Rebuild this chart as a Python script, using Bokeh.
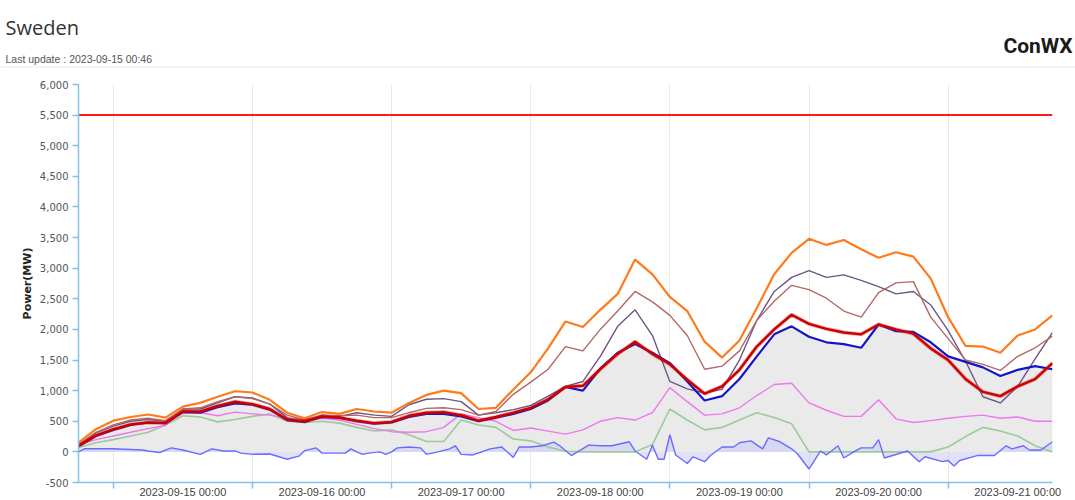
import pandas as pd
from bokeh.plotting import figure
from bokeh.layouts import column
from bokeh.models import FixedTicker, CustomJSTickFormatter, NumeralTickFormatter, Label, Span
from bokeh.embed import file_html
from bokeh.resources import INLINE

# ---------------- data (MW), 3-hourly from 2023-09-14 18:00 ----------------
start = pd.Timestamp("2023-09-14 18:00")
end = pd.Timestamp("2023-09-21 18:00")
times = pd.date_range(start, end, freq="3h")

capacity_mw = 5500

orange = [150, 370, 510, 570, 610, 560, 740, 800, 900, 990, 970, 850,
          640, 550, 650, 620, 700, 660, 640, 800, 930, 1000, 960, 700,
          720, 1020, 1300, 1690, 2130, 2040, 2320, 2580, 3140, 2900, 2530, 2300,
          1800, 1540, 1820, 2350, 2900, 3250, 3480, 3380, 3460, 3310, 3170, 3260,
          3190, 2830, 2200, 1730, 1720, 1620, 1900, 2000, 2230]

brown = [120, 320, 440, 520, 550, 510, 700, 720, 820, 900, 870, 780,
         600, 520, 600, 590, 600, 560, 560, 640, 710, 720, 690, 600,
         660, 940, 1140, 1350, 1720, 1650, 2000, 2300, 2620, 2450, 2230, 1900,
         1350, 1400, 1650, 2150, 2460, 2720, 2650, 2510, 2300, 2200, 2600, 2760,
         2780, 2200, 1850, 1500, 1430, 1330, 1560, 1700, 1890]

purple = [110, 310, 420, 500, 530, 500, 700, 700, 800, 900, 880, 780,
          560, 480, 600, 580, 640, 600, 580, 770, 860, 870, 820, 600,
          640, 690, 760, 910, 1070, 1150, 1560, 2050, 2320, 1900, 1150, 1030,
          960, 1020, 1500, 2150, 2620, 2850, 2960, 2850, 2890, 2800, 2700, 2580,
          2620, 2400, 1980, 1480, 900, 800, 1070, 1520, 1950]

red = [100, 270, 370, 450, 480, 470, 660, 660, 750, 820, 780, 700,
       530, 500, 580, 560, 510, 470, 490, 590, 640, 650, 600, 510,
       570, 640, 720, 860, 1060, 1080, 1350, 1600, 1800, 1600, 1430, 1180,
       950, 1070, 1340, 1720, 2000, 2240, 2090, 2010, 1950, 1920, 2080, 2000,
       1930, 1690, 1500, 1190, 980, 910, 1070, 1190, 1450]

blue = [90, 260, 360, 440, 480, 470, 650, 640, 730, 790, 770, 690,
        520, 490, 570, 560, 500, 460, 480, 570, 620, 620, 580, 500,
        560, 620, 700, 840, 1060, 1000, 1360, 1620, 1760, 1620, 1450, 1150,
        840, 910, 1190, 1560, 1920, 2050, 1880, 1790, 1760, 1700, 2080, 1970,
        1960, 1790, 1560, 1470, 1380, 1240, 1340, 1400, 1350]

pink = [120, 200, 260, 320, 380, 430, 680, 640, 590, 650, 620, 600,
        550, 540, 550, 520, 450, 380, 330, 320, 330, 400, 620, 560,
        500, 350, 390, 340, 290, 360, 500, 560, 520, 640, 1050, 820,
        600, 620, 720, 920, 1100, 1120, 800, 680, 580, 580, 850, 540,
        480, 510, 550, 580, 600, 550, 570, 500, 500]

green = [70, 150, 200, 260, 320, 440, 590, 570, 490, 530, 580, 620,
         500, 480, 500, 470, 400, 340, 360, 280, 170, 170, 520, 440,
         400, 210, 180, 80, 10, 0, 0, 0, 0, 120, 700, 520,
         360, 400, 520, 640, 560, 460, 0, 0, 0, 0, 0, 0,
         0, 0, 80, 250, 400, 340, 260, 100, 0]

# noisy series near zero: hours after start and values
noise_hours = [0, 1, 6, 11, 12, 14, 16, 18, 21, 23, 25, 27, 28, 30, 33, 36, 38, 39, 41, 42,
               46, 47, 48, 49, 50, 52, 53, 54, 55, 57, 59, 60, 62, 64, 65, 66, 68, 70, 71, 73,
               75, 76, 78, 80, 82, 83, 85, 88, 90, 92, 95, 96, 98, 99, 100, 101, 102, 103, 105, 106,
               108, 109, 111, 113, 114, 116, 118, 119, 121, 123, 124, 126, 128, 129, 131, 132, 134, 135, 137, 138,
               139, 143, 145, 146, 149, 150, 151, 152, 155, 158, 160, 161, 163, 164, 166, 168]
noise = [0, 50, 50, 30, 15, -10, 65, 30, -40, 50, 15, 15, -20, -40, -35, -120, -70, 20, 65, -20,
         -20, 50, 0, -40, -20, 0, -40, 0, 65, 80, 65, -40, 0, 50, 100, -40, -50, 15, 50, 80,
         -90, 80, 80, 100, 160, 100, -60, 110, 100, 100, 165, 15, -120, 110, -120, -120, 280, -50, -190, -80,
         -160, -60, 80, 80, 150, 180, 50, 230, 165, 50, -30, -280, 15, -50, 100, -100, 15, 65, 65, 200,
         -100, 15, -160, -80, -160, -140, -230, -140, -60, -60, 100, 50, 100, 30, 30, 165]
noise_times = [start + pd.Timedelta(hours=h) for h in noise_hours]

y_ticks = list(range(-500, 6001, 500))
day_marks = pd.date_range("2023-09-15", "2023-09-21", freq="D")

title_text = "Sweden"
update_text = "Last update : 2023-09-15 00:46"
logo_text = "ConWX"

W = 1075
HEAD_H = 74
MAIN_H = 500 - HEAD_H

# ---------------- header ----------------
head = figure(width=W, height=HEAD_H, x_range=(0, W), y_range=(HEAD_H, 0),
              output_backend="svg", toolbar_location=None, min_border=0,
              x_axis_type=None, y_axis_type=None)
head.frame_align = False
head.outline_line_color = None
head.xgrid.grid_line_color = None
head.ygrid.grid_line_color = None
head.add_layout(Label(x=5, y=27, text=title_text, text_font="Open Sans",
                      text_font_size="20px", text_color="#333333",
                      text_baseline="alphabetic", text_align="left"))
head.add_layout(Label(x=5, y=58.5, text=update_text, text_font="Liberation Sans",
                      text_font_size="10.5px", text_color="#555555",
                      text_baseline="alphabetic", text_align="left"))
head.add_layout(Label(x=1072, y=45, text=logo_text, text_font="Roboto",
                      text_font_size="21px", text_font_style="bold", text_color="#1a1a1a",
                      text_baseline="alphabetic", text_align="right"))
head.add_layout(Span(location=66.5, dimension="width", line_color="#e9e9e9", line_width=1))

# ---------------- main chart ----------------
p = figure(width=W, height=MAIN_H, x_axis_type="datetime",
           x_range=(start, end), y_range=(-500, 6000),
           output_backend="svg", toolbar_location=None,
           min_border_left=78, min_border_right=23,
           min_border_top=10, min_border_bottom=16)
p.frame_align = False
p.outline_line_color = None

p.varea(x=times, y1=0, y2=blue, fill_color="#e9e9e9", fill_alpha=0.95)
p.varea(x=noise_times, y1=0, y2=noise, fill_color="#c8c8f4", fill_alpha=0.55)

p.line(times, [capacity_mw] * len(times), line_color="#ff1a1a", line_width=2)
p.line(times, green, line_color="#9acb9a", line_width=1.6)
p.line(times, pink, line_color="#ee77ee", line_width=1.4)
p.line(noise_times, noise, line_color="#6b6bff", line_width=1.4)
p.line(times, purple, line_color="#6e5585", line_width=1.4)
p.line(times, brown, line_color="#b36767", line_width=1.4)
p.line(times, orange, line_color="#ff7a1a", line_width=2.2)
p.line(times, blue, line_color="#1414cc", line_width=2.2)
p.line(times, red, line_color="#d01010", line_width=4, line_alpha=0.35)
p.line(times, red, line_color="#cc0000", line_width=2.4)

AXIS_COLOR = "#86c0e6"

midnight_ms = [int(t.timestamp() * 1000) for t in day_marks]
noon_ms = [m + 12 * 3600 * 1000 for m in midnight_ms]
xa = p.xaxis[0]
xa.ticker = FixedTicker(ticks=noon_ms, minor_ticks=midnight_ms)
xa.formatter = CustomJSTickFormatter(code="""
    const d = new Date(tick - 43200000);
    return d.toISOString().slice(0, 10) + ' 00:00';
""")
xa.axis_line_color = AXIS_COLOR
xa.axis_line_width = 1.5
xa.major_tick_line_color = None
xa.major_tick_out = 2
xa.major_tick_in = 0
xa.minor_tick_line_color = AXIS_COLOR
xa.minor_tick_line_width = 1.5
xa.minor_tick_out = 6
xa.minor_tick_in = 0
xa.major_label_standoff = -3
xa.major_label_text_font = "Liberation Sans"
xa.major_label_text_font_size = "11px"
xa.major_label_text_color = "#444444"

p.xgrid.ticker = FixedTicker(ticks=midnight_ms)
p.xgrid.grid_line_color = "#e8e8e8"
p.ygrid.grid_line_color = None

ya = p.yaxis[0]
ya.ticker = FixedTicker(ticks=y_ticks)
ya.formatter = NumeralTickFormatter(format="0,0")
ya.axis_line_color = AXIS_COLOR
ya.axis_line_width = 1.5
ya.major_tick_line_color = AXIS_COLOR
ya.major_tick_line_width = 1.5
ya.major_tick_out = 6
ya.major_tick_in = 0
ya.minor_tick_line_color = None
ya.major_label_standoff = 4
ya.major_label_text_font = "DejaVu Sans"
ya.major_label_text_font_size = "10px"
ya.major_label_text_color = "#555555"
ya.axis_label = "Power(MW)"
ya.axis_label_text_font = "DejaVu Sans"
ya.axis_label_text_font_size = "11px"
ya.axis_label_text_font_style = "bold"
ya.axis_label_text_color = "#222222"
ya.axis_label_standoff = 3

layout = column(head, p, spacing=0)
open("out.html", "w").write(file_html(layout, INLINE))
